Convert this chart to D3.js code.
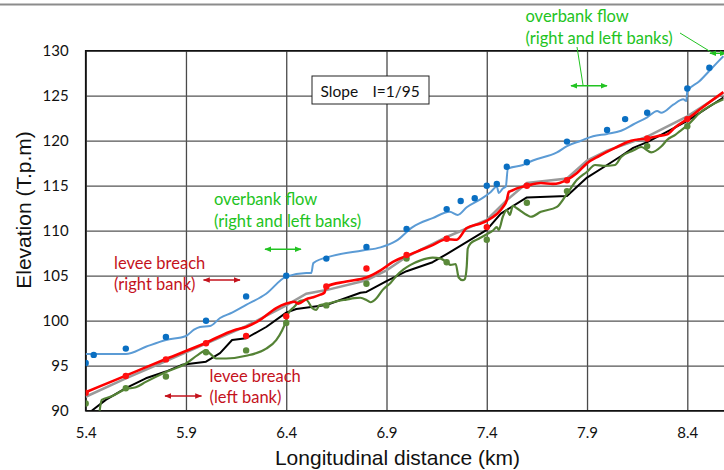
<!DOCTYPE html>
<html>
<head>
<meta charset="utf-8">
<script src="https://cdn.jsdelivr.net/npm/d3@7/dist/d3.min.js"></script>
<style>
  html, body { margin: 0; padding: 0; background: #fff; }
  svg { display: block; }
</style>
</head>
<body>
<svg id="chart" width="724" height="470"></svg>
<script>
// Longitudinal profile: distance (km) vs elevation (T.p.m)
const xTicks = [5.4, 5.9, 6.4, 6.9, 7.4, 7.9, 8.4];
const yTicks = [90, 95, 100, 105, 110, 115, 120, 125, 130];

// light-blue profile and its surveyed points
const blueLine = [[5.40,96.3],[5.60,96.3],[5.70,97.1],[5.80,97.85],[5.90,98.3],[5.94,99.0],[5.97,99.3],[6.02,99.4],[6.07,100.3],[6.13,100.9],[6.20,101.75],[6.30,103.0],[6.40,104.9],[6.50,105.3],[6.525,105.3],[6.535,106.4],[6.63,107.2],[6.78,107.8],[6.87,108.15],[6.95,108.9],[7.03,110.4],[7.13,111.4],[7.215,112.1],[7.255,111.75],[7.30,112.6],[7.37,113.5],[7.42,114.3],[7.45,114.9],[7.46,114.2],[7.48,114.7],[7.495,114.9],[7.505,116.9],[7.58,117.3],[7.63,117.8],[7.75,118.7],[7.80,119.4],[7.87,120.0],[7.93,120.5],[8.00,120.75],[8.07,121.1],[8.13,121.8],[8.20,122.6],[8.25,123.3],[8.27,123.1],[8.33,124.0],[8.38,124.6],[8.395,124.4],[8.40,125.5],[8.46,126.6],[8.52,128.0],[8.58,129.4]];
const blueDots = [[5.40,95.3],[5.44,96.2],[5.60,96.9],[5.80,98.2],[6.00,100.0],[6.20,102.7],[6.40,105.0],[6.60,106.9],[6.80,108.2],[7.00,110.2],[7.20,112.4],[7.27,113.3],[7.34,113.6],[7.40,115.0],[7.45,115.2],[7.50,117.1],[7.60,117.6],[7.80,119.9],[8.00,121.2],[8.09,122.4],[8.20,123.1],[8.40,125.8],[8.51,128.1]];

// red profile and points
const redLine = [[5.40,92.05],[5.47,92.7],[5.60,93.9],[5.80,95.75],[6.00,97.55],[6.14,98.95],[6.20,99.3],[6.27,100.1],[6.35,101.4],[6.40,101.9],[6.44,102.1],[6.46,101.9],[6.50,102.4],[6.535,102.6],[6.57,102.9],[6.59,103.1],[6.60,103.8],[6.70,104.35],[6.80,104.8],[6.87,105.6],[6.93,106.5],[7.00,107.2],[7.07,107.85],[7.13,108.4],[7.20,109.05],[7.25,109.0],[7.30,110.3],[7.37,110.8],[7.40,111.1],[7.45,111.85],[7.48,112.6],[7.50,113.4],[7.51,114.3],[7.53,114.5],[7.55,114.7],[7.60,115.0],[7.67,115.3],[7.73,115.2],[7.80,115.65],[7.85,116.4],[7.90,117.5],[7.96,118.3],[8.04,119.2],[8.12,120.0],[8.20,120.25],[8.25,120.5],[8.30,120.7],[8.34,121.5],[8.40,122.4],[8.47,123.6],[8.58,125.4]];
const redDots = [[5.40,92.0],[5.60,93.85],[5.80,95.7],[6.00,97.5],[6.20,98.3],[6.40,100.5],[6.60,103.8],[6.80,105.8],[7.00,107.3],[7.20,109.1],[7.40,110.4],[7.60,115.0],[7.80,115.6],[8.20,120.25],[8.40,122.4]];

// grey reference line
const greyLine = [[5.40,91.55],[5.60,93.6],[5.80,95.5],[6.00,97.45],[6.20,99.4],[6.40,101.7],[6.50,103.0],[6.60,103.4],[6.80,104.5],[6.90,105.6],[7.00,107.1],[7.20,109.3],[7.40,111.2],[7.50,113.4],[7.60,115.3],[7.80,115.8],[7.90,117.8],[8.00,118.9],[8.20,120.45],[8.40,122.7],[8.58,125.3]];

// black profile
const blackLine = [[5.43,90.0],[5.50,91.2],[5.60,92.5],[5.70,93.6],[5.80,94.35],[5.88,95.1],[6.00,95.45],[6.07,96.4],[6.13,97.85],[6.20,98.05],[6.30,99.3],[6.40,100.9],[6.45,101.3],[6.60,101.75],[6.77,103.1],[6.80,103.2],[6.90,104.4],[7.00,105.5],[7.13,106.5],[7.20,107.4],[7.40,110.1],[7.47,111.9],[7.60,113.7],[7.80,113.85],[7.90,115.9],[8.00,117.3],[8.07,118.3],[8.13,119.2],[8.20,119.85],[8.30,121.0],[8.40,122.2],[8.58,124.8]];

// green profile and points
const greenLine = [[5.467,89.5],[5.48,91.2],[5.53,91.6],[5.60,92.4],[5.65,92.6],[5.70,93.2],[5.80,94.3],[5.90,95.25],[5.96,96.2],[6.00,96.7],[6.02,96.35],[6.05,95.8],[6.10,95.8],[6.20,96.1],[6.30,96.9],[6.35,97.85],[6.38,98.95],[6.395,99.7],[6.41,100.8],[6.44,101.55],[6.47,102.2],[6.50,102.3],[6.53,101.4],[6.55,101.2],[6.565,101.7],[6.60,101.85],[6.66,102.2],[6.70,102.35],[6.74,102.5],[6.77,102.55],[6.80,102.3],[6.82,102.05],[6.85,102.5],[6.88,103.4],[6.92,104.2],[6.95,105.0],[6.985,105.7],[7.02,106.2],[7.07,106.7],[7.13,107.0],[7.17,106.9],[7.20,106.5],[7.22,106.2],[7.245,106.3],[7.26,104.8],[7.28,104.5],[7.29,104.6],[7.30,106.0],[7.305,108.0],[7.32,108.6],[7.36,109.1],[7.40,109.6],[7.43,110.0],[7.45,110.4],[7.46,110.1],[7.48,111.55],[7.50,112.3],[7.515,111.75],[7.53,112.75],[7.55,112.5],[7.60,111.75],[7.62,111.55],[7.67,112.1],[7.75,112.65],[7.80,114.1],[7.85,115.65],[7.90,116.55],[7.94,117.3],[7.98,117.2],[8.04,117.3],[8.07,118.2],[8.13,118.9],[8.17,119.3],[8.22,118.7],[8.27,119.35],[8.30,120.1],[8.34,120.65],[8.36,121.0],[8.40,121.7],[8.46,123.05],[8.58,124.6]];
const greenDots = [[5.40,90.8],[5.60,92.5],[5.80,93.8],[6.00,96.5],[6.20,96.7],[6.40,99.75],[6.60,101.7],[6.80,104.1],[7.00,106.9],[7.20,106.5],[7.40,109.0],[7.60,113.1],[7.80,114.4],[8.20,119.4],[8.40,121.6]];

// annotation texts
const slopeText = ["Slope", "I=1/95"];
const overbankText = ["overbank flow", "(right and left banks)"];
const rightBreachText = ["levee breach", "(right bank)"];
const leftBreachText = ["levee breach", "(left bank)"];
const xTitle = "Longitudinal distance (km)";
const yTitle = "Elevation (T.p.m)";

const svg = d3.select("#chart");
const W = 724, H = 470;
const plotLeft = 85.7, plotTop = 50.7, plotBottom = 410.7;

const x = d3.scaleLinear().domain([5.4, 8.4]).range([plotLeft, 687.3]);
const y = d3.scaleLinear().domain([90, 130]).range([plotBottom, plotTop]);

const uiFont = "Lato, 'Open Sans', sans-serif";
const titleFont = "'Liberation Sans', Arial, sans-serif";
const textGreen = "#22c322";
const textRed = "#c4121c";

// grey rule across the top
svg.append("line").attr("x1", 0).attr("x2", W).attr("y1", 4.5).attr("y2", 4.5)
  .attr("stroke", "#8c8c8c").attr("stroke-width", 2);

// clip for the plot area
svg.append("clipPath").attr("id", "plotClip").append("rect")
  .attr("x", plotLeft).attr("y", plotTop).attr("width", W - plotLeft + 5).attr("height", plotBottom - plotTop);

// grid + axes
const gridX = svg.append("g").attr("transform", `translate(0,${plotBottom})`)
  .call(d3.axisBottom(x).tickValues(xTicks).tickSize(-(plotBottom - plotTop)).tickFormat(d3.format(".1f")).tickPadding(17));
gridX.select(".domain").remove();
gridX.selectAll(".tick line").attr("stroke", "#4a4a4a").attr("stroke-width", 1.3);
gridX.selectAll(".tick text").attr("font-family", uiFont).attr("font-size", 15).attr("fill", "#111");

const gridY = svg.append("g").attr("transform", `translate(${plotLeft},0)`)
  .call(d3.axisLeft(y).tickValues(yTicks).tickSize(-(W - plotLeft + 5)).tickPadding(17));
gridY.select(".domain").remove();
gridY.selectAll(".tick line").attr("stroke", "#555").attr("stroke-width", 1.3);
gridY.selectAll(".tick text").attr("font-family", uiFont).attr("font-size", 15).attr("fill", "#111");

// plot frame (right side runs past the view)
svg.append("path")
  .attr("d", `M${W + 5},${plotTop}H${plotLeft}V${plotBottom}H${W + 5}`)
  .attr("fill", "none").attr("stroke", "#111").attr("stroke-width", 1.6);

// profiles
const plot = svg.append("g").attr("clip-path", "url(#plotClip)");
const smooth = d3.line().x(d => x(d[0])).y(d => y(d[1])).curve(d3.curveMonotoneX);
const straight = d3.line().x(d => x(d[0])).y(d => y(d[1]));

plot.append("path").datum(greyLine).attr("d", straight)
  .attr("fill", "none").attr("stroke", "#9a9a9a").attr("stroke-width", 2.5);
plot.append("path").datum(blackLine).attr("d", straight)
  .attr("fill", "none").attr("stroke", "#000").attr("stroke-width", 2).attr("stroke-linejoin", "round");
plot.append("path").datum(greenLine).attr("d", smooth)
  .attr("fill", "none").attr("stroke", "#548235").attr("stroke-width", 2.2).attr("stroke-linejoin", "round");
plot.append("path").datum(redLine).attr("d", smooth)
  .attr("fill", "none").attr("stroke", "#ff0000").attr("stroke-width", 2.6).attr("stroke-linejoin", "round");
plot.append("path").datum(blueLine).attr("d", smooth)
  .attr("fill", "none").attr("stroke", "#5b9bd5").attr("stroke-width", 2).attr("stroke-linejoin", "round");

function dots(data, color) {
  plot.append("g").selectAll("circle").data(data).join("circle")
    .attr("cx", d => x(d[0])).attr("cy", d => y(d[1])).attr("r", 3.2).attr("fill", color);
}
dots(greenDots, "#5a8a3a");
dots(redDots, "#ff1010");
dots(blueDots, "#0a6fc2");

// arrow heads
const defs = svg.append("defs");
function marker(id, color) {
  const m = defs.append("marker").attr("id", id).attr("viewBox", "0 0 10 10")
    .attr("refX", 9).attr("refY", 5).attr("markerWidth", 5).attr("markerHeight", 5)
    .attr("orient", "auto-start-reverse").attr("markerUnits", "strokeWidth");
  m.append("path").attr("d", "M0,1L10,5L0,9Z").attr("fill", color);
}
marker("arrG", textGreen);
marker("arrR", textRed);

function dblArrow(x1, x2, yy, color, id) {
  svg.append("line").attr("x1", x1).attr("x2", x2).attr("y1", yy).attr("y2", yy)
    .attr("stroke", color).attr("stroke-width", 1.4)
    .attr("marker-start", `url(#${id})`).attr("marker-end", `url(#${id})`);
}

function textBlock(lines, tx, ys, color) {
  lines.forEach((t, i) => {
    svg.append("text").attr("x", tx).attr("y", ys[i]).attr("dominant-baseline", "central")
      .attr("font-family", uiFont).attr("font-size", 16.5).attr("fill", color).text(t);
  });
}

// slope box
svg.append("rect").attr("x", 312).attr("y", 76).attr("width", 117).attr("height", 28)
  .attr("fill", "#fff").attr("stroke", "#222").attr("stroke-width", 1);
const slopeLabel = svg.append("text").attr("y", 90.5).attr("dominant-baseline", "central")
  .attr("font-family", uiFont).attr("font-size", 15.5).attr("fill", "#111");
slopeLabel.append("tspan").attr("x", 320.5).text(slopeText[0]);
slopeLabel.append("tspan").attr("x", 372.5).text(slopeText[1]);

// overbank (upper right)
textBlock(overbankText, 525.5, [15.5, 37.5], textGreen);
svg.append("line").attr("x1", 680).attr("y1", 33).attr("x2", 711).attr("y2", 52)
  .attr("stroke", textGreen).attr("stroke-width", 1);
svg.append("line").attr("x1", 577).attr("y1", 47).attr("x2", 583).attr("y2", 85)
  .attr("stroke", textGreen).attr("stroke-width", 1);
dblArrow(571, 607, 85.7, textGreen, "arrG");
dblArrow(710, 726, 53.3, textGreen, "arrG");

// overbank (middle)
textBlock(overbankText, 214, [199, 220.5], textGreen);
dblArrow(265, 301, 249.3, textGreen, "arrG");

// levee breaches
textBlock(rightBreachText, 114, [262.5, 284], textRed);
dblArrow(203.5, 240, 280, textRed, "arrR");
textBlock(leftBreachText, 209.5, [376, 396.5], textRed);
dblArrow(165, 201.5, 396, textRed, "arrR");

// axis titles
svg.append("text").attr("x", 397.5).attr("y", 457).attr("dominant-baseline", "central")
  .attr("text-anchor", "middle").attr("font-family", titleFont).attr("font-size", 21)
  .attr("fill", "#111").text(xTitle);
svg.append("text").attr("transform", "translate(23,210) rotate(-90)")
  .attr("dominant-baseline", "central").attr("text-anchor", "middle")
  .attr("font-family", titleFont).attr("font-size", 21).attr("fill", "#111").text(yTitle);
</script>
</body>
</html>
